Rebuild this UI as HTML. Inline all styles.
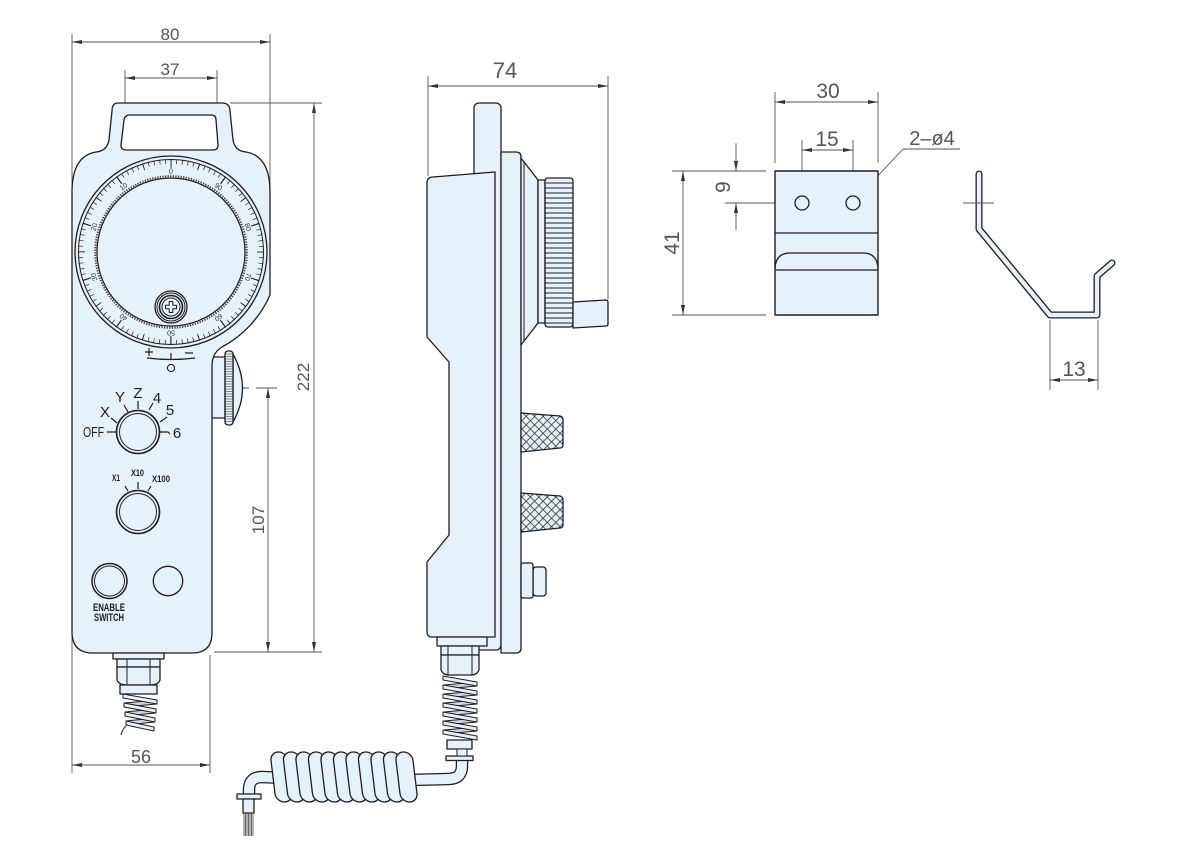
<!DOCTYPE html>
<html><head><meta charset="utf-8"><style>
html,body{margin:0;padding:0;background:#fff;}
svg{display:block;}
</style></head><body>
<svg width="1200" height="850" viewBox="0 0 1200 850" xmlns="http://www.w3.org/2000/svg" font-family="'Liberation Sans', sans-serif">
<defs>
<marker id="a" viewBox="0 0 10 4" refX="10" refY="2" markerWidth="10" markerHeight="4" orient="auto-start-reverse" markerUnits="userSpaceOnUse"><path d="M0,0 L10,2 L0,4 z" fill="#333"/></marker>
<pattern id="hatch" width="6" height="6" patternUnits="userSpaceOnUse" patternTransform="rotate(45)"><rect width="6" height="6" fill="#e6f2fb"/><path d="M0,0.4 H6 M0.4,0 V6" stroke="#333" stroke-width="0.8"/></pattern>
</defs>
<rect width="1200" height="850" fill="#fff"/>

<!-- ================= DIMENSIONS ================= -->
<g stroke="#555" stroke-width="0.9" fill="none">
  <!-- 80 -->
  <line x1="72" y1="34" x2="72" y2="773"/>
  <line x1="270" y1="34" x2="270" y2="190"/>
  <line x1="72" y1="42" x2="270" y2="42" marker-start="url(#a)" marker-end="url(#a)"/>
  <!-- 37 -->
  <line x1="125" y1="70" x2="125" y2="115"/>
  <line x1="217" y1="70" x2="217" y2="115"/>
  <line x1="125" y1="78" x2="217" y2="78" marker-start="url(#a)" marker-end="url(#a)"/>
  <!-- 222 -->
  <line x1="230" y1="103" x2="322" y2="103"/>
  <line x1="214" y1="652" x2="322" y2="652"/>
  <line x1="314" y1="103" x2="314" y2="652" marker-start="url(#a)" marker-end="url(#a)"/>
  <!-- 107 -->
  <line x1="268" y1="388" x2="268" y2="652" marker-start="url(#a)" marker-end="url(#a)"/>
  <path d="M200 388 H249 M256 388 H277"/>
  <!-- 56 -->
  <line x1="210" y1="655" x2="210" y2="773"/>
  <line x1="72" y1="765" x2="210" y2="765" marker-start="url(#a)" marker-end="url(#a)"/>
  <!-- 74 -->
  <line x1="428" y1="76" x2="428" y2="176"/>
  <line x1="608" y1="76" x2="608" y2="299"/>
  <line x1="428" y1="86" x2="608" y2="86" marker-start="url(#a)" marker-end="url(#a)"/>
  <!-- 30 -->
  <line x1="775" y1="92" x2="775" y2="163"/>
  <line x1="878" y1="92" x2="878" y2="163"/>
  <line x1="775" y1="102" x2="878" y2="102" marker-start="url(#a)" marker-end="url(#a)"/>
  <!-- 15 -->
  <line x1="802" y1="140" x2="802" y2="185"/>
  <line x1="853" y1="140" x2="853" y2="185"/>
  <line x1="802" y1="150" x2="853" y2="150" marker-start="url(#a)" marker-end="url(#a)"/>
  <!-- 41 / 9 -->
  <line x1="672" y1="171" x2="766" y2="171"/>
  <line x1="672" y1="315" x2="766" y2="315"/>
  <line x1="725" y1="203" x2="782" y2="203"/>
  <line x1="683" y1="171" x2="683" y2="315" marker-start="url(#a)" marker-end="url(#a)"/>
  <line x1="736" y1="143" x2="736" y2="171" marker-end="url(#a)"/>
  <line x1="736" y1="230" x2="736" y2="203" marker-end="url(#a)"/>
  <!-- leader 2-ø4 -->
  <line x1="960" y1="149" x2="903" y2="149"/>
  <line x1="903" y1="149" x2="859" y2="196" marker-end="url(#a)"/>
  <!-- hole crosshairs -->
  <path d="M790 203 H814 M841 203 H866 M802 191 V215 M853 191 V215"/>
  <!-- hook -->
  <path d="M963 203 H994"/>
  <line x1="1050" y1="320" x2="1050" y2="390"/>
  <line x1="1098" y1="320" x2="1098" y2="390"/>
  <line x1="1050" y1="380" x2="1098" y2="380" marker-start="url(#a)" marker-end="url(#a)"/>
</g>

<g fill="#555" font-size="17" text-anchor="middle">
  <text x="170" y="40">80</text>
  <text x="170" y="75">37</text>
  <text x="505" y="78" font-size="22">74</text>
  <text x="141" y="763" font-size="18">56</text>
  <text x="0" y="0" transform="translate(309 377) rotate(-90)">222</text>
  <text x="0" y="0" transform="translate(264 520) rotate(-90)">107</text>
  <text x="828" y="98" font-size="21">30</text>
  <text x="827" y="146" font-size="21">15</text>
  <text x="932" y="145" font-size="20">2–ø4</text>
  <text x="0" y="0" font-size="21" transform="translate(730 187) rotate(-90)">9</text>
  <text x="0" y="0" font-size="21" transform="translate(679 243) rotate(-90)">41</text>
  <text x="1074" y="376" font-size="21">13</text>
</g>

<!-- ================= FRONT VIEW ================= -->
<g stroke="#1e1e1e" stroke-width="1.3" fill="#e6f2fb" stroke-linejoin="round">
  <!-- side knob -->
  <path d="M211 357 H225 V418 H211 Z"/>
  <path d="M233 354 Q252 388 233 422 Z"/>
  <rect x="225" y="351" width="8" height="74" rx="3"/>
  <path stroke-width="0.6" d="M225 354H233M225 356.5H233M225 359H233M225 361.5H233M225 364H233M225 366.5H233M225 369H233M225 371.5H233M225 374H233M225 376.5H233M225 379H233M225 381.5H233M225 384H233M225 386.5H233M225 389H233M225 391.5H233M225 394H233M225 396.5H233M225 399H233M225 401.5H233M225 404H233M225 406.5H233M225 409H233M225 411.5H233M225 414H233M225 416.5H233M225 419H233M225 421.5H233"/>

  <!-- body -->
  <path d="M118 103 H222 Q230 103 230 111 L233 140 Q235 151 246 152 Q270 156 270 192 L270 295 A108 108 0 0 1 222 347 Q212 353 212 366 L212 633 Q212 653 192 653 L93 653 Q72 653 72 632 L72 192 Q72 156 96 152 Q107 151 109 140 L112 111 Q112 103 118 103 Z"/>
  <!-- handle hole -->
  <path d="M130 115 H211 Q216 115 216 120 L218 145 Q218 150 213 150 H126 Q121 150 121 145 L124 120 Q125 115 130 115 Z" fill="#fff"/>

  <!-- dial -->
  <circle cx="171" cy="252" r="96"/>
  <circle cx="171" cy="252" r="92.5" fill="none" stroke-width="1"/>
  <g transform="rotate(-90 171 252)" fill="none" stroke="#222">
    <circle cx="171" cy="252" r="90.5" stroke-width="5" stroke-dasharray="0.7 4.9863" stroke-dashoffset="0.35"/>
    <circle cx="171" cy="252" r="89.5" stroke-width="7" stroke-dasharray="0.9 27.217" stroke-dashoffset="0.45"/>
    <circle cx="171" cy="252" r="88.5" stroke-width="9" stroke-dasharray="1.1 54.506" stroke-dashoffset="0.55"/>
  </g>
  <circle cx="171" cy="252" r="75.8" fill="none" stroke="#444" stroke-width="2" stroke-dasharray="1.3 1.3"/>
  <circle cx="171" cy="252" r="74" stroke-width="1.2"/>
  <g fill="#333" stroke="none" font-size="7" text-anchor="middle" dominant-baseline="central">
    <text x="171" y="172">0</text>
    <text x="124" y="187.3" transform="rotate(-36 124 187.3)">10</text>
    <text x="94.9" y="227.3" transform="rotate(-72 94.9 227.3)">20</text>
    <text x="94.9" y="276.7" transform="rotate(-108 94.9 276.7)">30</text>
    <text x="124" y="316.7" transform="rotate(-144 124 316.7)">40</text>
    <text x="171" y="332" transform="rotate(180 171 332)">50</text>
    <text x="218" y="316.7" transform="rotate(144 218 316.7)">60</text>
    <text x="247.1" y="276.7" transform="rotate(108 247.1 276.7)">70</text>
    <text x="247.1" y="227.3" transform="rotate(72 247.1 227.3)">80</text>
    <text x="218" y="187.3" transform="rotate(36 218 187.3)">90</text>
  </g>
  <!-- centre knob -->
  <circle cx="171" cy="307" r="16"/>
  <circle cx="171" cy="307" r="14" fill="none" stroke-width="1"/>
  <circle cx="171" cy="307" r="11.5" fill="none" stroke-width="1.6"/>
  <circle cx="171" cy="307" r="9" fill="none" stroke-width="1"/>
  <path d="M169.2 301.5 H172.8 V305.2 H176.5 V308.8 H172.8 V312.5 H169.2 V308.8 H165.5 V305.2 H169.2 Z" stroke-width="1"/>
  <!-- +/- marks -->
  <path d="M145 352 H153 M149 348 V356 M185 353 H193 M147 358 Q171 361 195 358 M171 353 V359" fill="none" stroke-width="1.2"/>
  <circle cx="171" cy="368" r="3.6" fill="none" stroke-width="1.1"/>

  <!-- axis selector -->
  <circle cx="138" cy="432" r="21.5" stroke-width="1.6"/>
  <circle cx="138" cy="432" r="18.5" fill="none" stroke-width="1"/>
  <path fill="none" stroke-width="1.2" d="M107 432 H116 M111 418 L117 423 M124 405 L128 412 M138 401 V409 M153 403 L149 410 M167 417 L160 422 M160 432 H168 L170 434"/>
  <!-- multiplier -->
  <circle cx="138" cy="512" r="21.5" stroke-width="1.6"/>
  <circle cx="138" cy="512" r="18.5" fill="none" stroke-width="1"/>
  <path fill="none" stroke-width="1.2" d="M138 482 V489 M125 486 L128 491 M151 486 L148 491"/>
  <!-- buttons -->
  <circle cx="109.5" cy="581" r="17.5" stroke-width="1.5"/>
  <circle cx="109.5" cy="581" r="15" fill="none" stroke-width="1"/>
  <circle cx="168" cy="581" r="14.7" stroke-width="1.3"/>

  <!-- connector front -->
  <rect x="113" y="653" width="51" height="6"/>
  <rect x="117" y="659" width="43" height="8"/>
  <path d="M117 667 H160 V680 Q158 685 150 685 H127 Q119 685 117 680 Z"/>
  <path d="M127 659 V685 M150 659 V685" fill="none" stroke-width="1"/>
  <rect x="120" y="685" width="37" height="9"/>
  <g stroke-width="1">
    <polygon points="157,700 157,704 124,707 124,703" fill="#c9d6df"/>
    <polygon points="156,709 156,713 125,716 125,712" fill="#c9d6df"/>
    <polygon points="155,718 155,722 126,725 126,721" fill="#c9d6df"/>
    <polygon points="123,694 157,700 157,704 123,698"/>
    <polygon points="124,703 156,709 156,713 124,707"/>
    <polygon points="125,712 155,718 155,722 125,716"/>
    <polygon points="126,721 154,727 154,731 126,725"/>
  </g>
  <path d="M126 726 Q122 730 121 735" fill="none" stroke-width="1"/>
</g>

<g fill="#1e1e1e">
  <text x="104" y="437" font-size="15" text-anchor="end" textLength="21" lengthAdjust="spacingAndGlyphs">OFF</text>
  <text x="105" y="417" font-size="15" text-anchor="middle">X</text>
  <text x="120" y="402" font-size="15" text-anchor="middle">Y</text>
  <text x="138" y="398" font-size="15" text-anchor="middle">Z</text>
  <text x="157" y="403" font-size="15" text-anchor="middle">4</text>
  <text x="170" y="415" font-size="15" text-anchor="middle">5</text>
  <text x="177" y="438" font-size="15" text-anchor="middle">6</text>
  <g font-weight="bold" font-size="9.5">
    <text x="112" y="481" textLength="8" lengthAdjust="spacingAndGlyphs">X1</text>
    <text x="131" y="476" textLength="13" lengthAdjust="spacingAndGlyphs">X10</text>
    <text x="152" y="482" textLength="18" lengthAdjust="spacingAndGlyphs">X100</text>
  </g>
  <g font-weight="bold" font-size="11">
    <text x="93" y="611" textLength="32" lengthAdjust="spacingAndGlyphs">ENABLE</text>
    <text x="94" y="621" textLength="30" lengthAdjust="spacingAndGlyphs">SWITCH</text>
  </g>
</g>

<!-- ================= SIDE VIEW ================= -->
<g stroke="#1e1e1e" stroke-width="1.3" fill="#e6f2fb" stroke-linejoin="round">
  <!-- cable tubes -->
  <path d="M462 757 L462 766 Q462 779 448 779 L410 780" fill="none" stroke="#1e1e1e" stroke-width="12.5"/>
  <path d="M462 757 L462 766 Q462 779 448 779 L410 780" fill="none" stroke="#e6f2fb" stroke-width="10"/>
  <path d="M285 778 L262 777 Q249 777 249 790 L249 800" fill="none" stroke="#1e1e1e" stroke-width="12.5"/>
  <path d="M285 778 L262 777 Q249 777 249 790 L249 800" fill="none" stroke="#e6f2fb" stroke-width="10"/>
  <!-- coil -->
  <g transform="matrix(1 0 0.12 1 -93.24 0)">
    <rect x="273" y="752" width="17" height="50" rx="8.5"/>
    <rect x="285.5" y="752" width="17" height="50" rx="8.5"/>
    <rect x="298" y="752" width="17" height="50" rx="8.5"/>
    <rect x="310.5" y="752" width="17" height="50" rx="8.5"/>
    <rect x="323" y="752" width="17" height="50" rx="8.5"/>
    <rect x="335.5" y="752" width="17" height="50" rx="8.5"/>
    <rect x="348" y="752" width="17" height="50" rx="8.5"/>
    <rect x="360.5" y="752" width="17" height="50" rx="8.5"/>
    <rect x="373" y="752" width="17" height="50" rx="8.5"/>
    <rect x="385.5" y="752" width="17" height="50" rx="8.5"/>
    <rect x="398" y="752" width="17" height="50" rx="8.5"/>
  </g>
  <!-- left cable end -->
  <rect x="237" y="794" width="24" height="5"/>
  <rect x="243" y="799" width="11" height="14"/>
  <path d="M244 813V836M245.5 813V836M247 813V836M248.5 813V836M250 813V836M251.5 813V836M253 813V836" stroke="#555" stroke-width="0.9" fill="none"/>
  <rect x="446" y="756" width="27" height="4.5"/>

  <!-- rear plate -->
  <rect x="474" y="103" width="27" height="547" rx="5"/>
  <!-- flange -->
  <path d="M501 152 H516 Q521 152 521 157 V648 Q521 653 516 653 H501 Z"/>
  <!-- main body -->
  <path d="M427 183 Q427 177 433 177 L495 172 L495 637 L432 637 Q427 637 427 632 L427 562 L449 535 L449 362 L427 337 Z"/>
  <!-- cone -->
  <polygon points="521,158 538,180 538,323 521,345"/>
  <line x1="524" y1="161" x2="524" y2="342" stroke-width="1"/>
  <rect x="538" y="180" width="7" height="143"/>
  <!-- knurled wheel -->
  <rect x="545" y="178" width="28" height="149" rx="3"/>
  <path stroke-width="0.9" d="M545 183H573M545 188H573M545 193H573M545 198H573M545 203H573M545 208H573M545 213H573M545 218H573M545 223H573M545 228H573M545 233H573M545 238H573M545 243H573M545 248H573M545 253H573M545 258H573M545 263H573M545 268H573M545 273H573M545 278H573M545 283H573M545 288H573M545 293H573M545 298H573M545 303H573M545 308H573M545 313H573M545 318H573M545 323H573"/>
  <!-- handle tip -->
  <path d="M573 302 L606 300 Q608 300 608 302 V324 Q608 326 606 326 L573 328 Z"/>
  <!-- hatched knobs -->
  <path d="M521 413 L560 416 Q563 417 563 420 V445 Q563 448 560 448 L521 452 Z" fill="url(#hatch)"/>
  <path d="M521 493 L560 496 Q563 497 563 500 V525 Q563 528 560 528 L521 532 Z" fill="url(#hatch)"/>
  <!-- button -->
  <rect x="533" y="567" width="13" height="29" rx="3"/>
  <rect x="521" y="563" width="12" height="35" rx="2"/>

  <!-- side connector -->
  <rect x="437" y="637" width="50" height="9"/>
  <rect x="441" y="646" width="38" height="9"/>
  <path d="M441 655 H479 V670 Q477 675 471 675 H449 Q443 675 441 670 Z"/>
  <path d="M448 646 V675 M472 646 V675" fill="none" stroke-width="1"/>
  <g stroke-width="1">
    <polygon points="477,682 477,686 444,689 444,685" fill="#c9d6df"/>
    <polygon points="477,691 477,695 444,698 444,694" fill="#c9d6df"/>
    <polygon points="477,700 477,704 444,707 444,703" fill="#c9d6df"/>
    <polygon points="477,709 477,713 444,716 444,712" fill="#c9d6df"/>
    <polygon points="477,718 477,722 444,725 444,721" fill="#c9d6df"/>
    <polygon points="477,727 477,731 444,734 444,730" fill="#c9d6df"/>
    <polygon points="443,676 477,682 477,686 443,680"/>
    <polygon points="443,685 477,691 477,695 443,689"/>
    <polygon points="443,694 477,700 477,704 443,698"/>
    <polygon points="443,703 477,709 477,713 443,707"/>
    <polygon points="443,712 477,718 477,722 443,716"/>
    <polygon points="443,721 477,727 477,731 443,725"/>
    <polygon points="443,730 477,736 477,740 443,734"/>
  </g>
  <rect x="447" y="740" width="25" height="9"/>
  <rect x="457" y="749" width="10" height="7" stroke-width="1"/>
</g>

<!-- ================= BRACKET ================= -->
<g stroke="#1e1e1e" stroke-width="1.4" fill="#e6f2fb" stroke-linejoin="round">
  <rect x="775" y="171" width="103" height="144"/>
  <path d="M775 233 H878 M775 270 H878 M775 268 Q776 253 790 253 H863 Q877 253 878 268" fill="none" stroke-width="1.3"/>
  <circle cx="802" cy="203" r="7" fill="none" stroke-width="1.3"/>
  <circle cx="853" cy="203" r="7" fill="none" stroke-width="1.3"/>
  <!-- hook -->
  <path d="M979 174 V229 L1050 315 H1097 V276 L1112 263" fill="none" stroke="#1e1e1e" stroke-width="7" stroke-linecap="round"/>
  <path d="M979 174 V229 L1050 315 H1097 V276 L1112 263" fill="none" stroke="#e6f2fb" stroke-width="4.4" stroke-linecap="round"/>
</g>
<path d="M963 203 H994" stroke="#555" stroke-width="0.9"/>
</svg>
</body></html>
